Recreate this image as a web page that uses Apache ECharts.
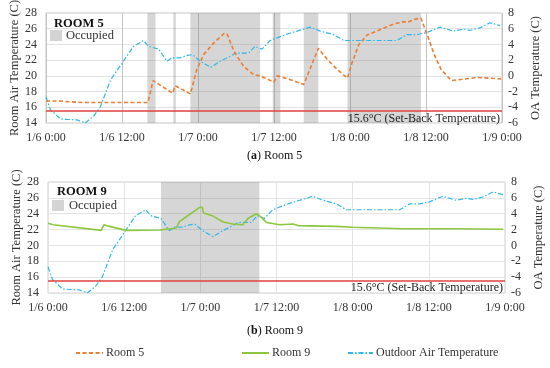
<!DOCTYPE html>
<html><head><meta charset="utf-8">
<script src="https://cdn.jsdelivr.net/npm/echarts@6/dist/echarts.min.js"></script>
<style>html,body{margin:0;padding:0;background:#fff}#c{width:550px;height:368px}</style>
</head><body><div id="c"></div>
<script>
// ---- data (hours since 1/6 0:00) ----
const xTickLabels = ["1/6 0:00","1/6 12:00","1/7 0:00","1/7 12:00","1/8 0:00","1/8 12:00","1/9 0:00"];
const room5Hours = [0,2,5.9,10,16.1,16.9,20.0,20.4,22.8,23.8,24.9,26.5,28.2,28.6,29.7,31.2,32.8,33.8,34.9,36.0,36.5,37.0,38.6,40.7,43.0,44.4,46.0,47.6,48.3,49.4,50.7,52.8,54.9,56.5,57.0,58.2,59.2,60.3,61.3,62.4,64.0,66.1,68.2,71.9];
const room5Temp  = [16.8,16.8,16.6,16.6,16.6,19.4,17.8,18.75,17.7,20.8,22.7,24.2,25.45,25.3,23.1,21.2,20.15,20.0,19.6,19.2,20.0,19.9,19.5,18.9,23.5,22.1,20.8,19.7,21.6,24.0,25.2,25.9,26.6,26.9,26.8,27.2,27.35,25.0,22.7,20.8,19.4,19.6,19.8,19.6];
const room9Hours = [0,0.8,8.4,8.8,9.7,12.3,17.6,20.2,20.7,22.3,23.9,24.3,24.5,26.0,27.6,29.1,30.7,31.5,32.8,33.4,34.4,36.5,38.6,39.4,45.4,48.0,55.9,63.8,71.7];
const room9Temp  = [22.8,22.6,21.9,22.6,22.4,21.9,21.95,22.2,23.0,23.9,24.8,24.8,24.1,23.7,22.95,22.7,22.6,23.4,24.0,23.7,22.9,22.6,22.7,22.5,22.4,22.3,22.1,22.1,22.05];
const oaHours = [0,0.7,2.3,4.9,6.2,7.5,8.6,10.2,12.0,13.8,15.4,16.2,17.8,19.1,19.9,21.2,22.3,23.1,24.4,26.0,27.5,29.1,29.9,32.0,33.0,34.1,35.4,37.0,38.6,40.7,41.7,43.3,45.4,47.0,49.1,52.8,55.4,57.0,58.5,60.1,62.2,64.3,65.9,67.0,68.5,70.1,71.7];
const oaTemp  = [-2.7,-4.3,-5.5,-5.6,-6.0,-5.15,-3.9,-0.5,1.6,3.75,4.5,3.75,3.4,1.85,2.3,2.3,2.6,2.7,1.85,1.1,1.85,2.5,2.9,2.9,3.75,3.4,4.5,5.0,5.45,5.95,6.2,5.7,5.25,4.5,4.5,4.5,4.5,5.25,5.25,5.5,6.2,5.7,5.95,5.8,6.1,6.75,6.4];
const room5OccStart = [16.0,20.1,22.8,35.8,40.7,47.6];
const room5OccEnd   = [17.3,20.5,33.8,37.0,43.0,59.2];
const room9OccStart = [17.8];
const room9OccEnd   = [33.3];
const setBack = 15.6;

const pair = (xs, ys) => xs.map((x, i) => [x, ys[i]]);
const bands = (s, e) => s.map((v, i) => [{xAxis: v}, {xAxis: e[i]}]);

const FONT = 'Liberation Serif';
const txt = {fontFamily: FONT, fontSize: 12, color: '#333'};
const C5 = '#ED7D31', C9 = '#8DC63F', COA = '#2DB7EC';

function xAxis(gi, vcol) {
  return {type: 'value', gridIndex: gi, min: 0, max: 72, interval: 12,
    axisLine: {show: false}, axisTick: {show: false},
    axisLabel: Object.assign({}, txt, {margin: 9, formatter: v => xTickLabels[Math.round(v / 12)]}),
    splitLine: {show: true, lineStyle: {color: vcol, width: 1}}};
}
function yLeft(gi) {
  return {type: 'value', gridIndex: gi, min: 14, max: 28, interval: 2,
    name: 'Room Air Temperature (C)', nameLocation: 'middle', nameGap: 25, nameRotate: 90, nameMoveOverlap: false,
    nameTextStyle: Object.assign({}, txt, {fontSize: 12.5}),
    axisLine: {show: false}, axisTick: {show: false},
    axisLabel: Object.assign({}, txt, {margin: 9}),
    splitLine: {show: true, lineStyle: {color: '#e3e3e3'}}};
}
function yRight(gi) {
  return {type: 'value', gridIndex: gi, min: -6, max: 8, interval: 2, position: 'right',
    name: 'OA Temperature (C)', nameLocation: 'middle', nameGap: 26, nameRotate: 90,
    nameTextStyle: Object.assign({}, txt, {fontSize: 12.5}),
    axisLine: {show: false}, axisTick: {show: false},
    axisLabel: Object.assign({}, txt, {margin: 6}),
    splitLine: {show: false}};
}
function setLine() {
  return {silent: true, symbol: 'none',
    lineStyle: {color: '#E0403C', width: 1.6, type: 'solid'},
    label: {show: true, position: 'insideEndBottom', formatter: '15.6°C (Set-Back Temperature)',
      fontFamily: FONT, fontSize: 12, color: '#222', distance: 2},
    data: [{yAxis: setBack}]};
}
const bandStyle = {color: 'rgba(120,120,120,0.30)'};
const legBase = {top: 342, itemWidth: 27, itemHeight: 10, itemStyle: {opacity: 0},
  textStyle: Object.assign({}, txt, {padding: [0, 0, 0, -2]})};

const option = {
  animation: false,
  backgroundColor: '#fff',
  grid: [
    {left: 46, top: 13, width: 456, height: 110, outerBoundsMode: 'none', containLabel: false, show: true, borderColor: '#c4c4c4', borderWidth: 1, backgroundColor: 'transparent'},
    {left: 48, top: 182, width: 457, height: 111, outerBoundsMode: 'none', containLabel: false, show: true, borderColor: '#d0d0d0', borderWidth: 1, backgroundColor: 'transparent'}
  ],
  xAxis: [xAxis(0, '#c4c4c4'), xAxis(1, '#e3e3e3')],
  yAxis: [yLeft(0), yRight(0), yLeft(1), yRight(1)],
  legend: [
    Object.assign({data: ['Room 5'], left: 70}, legBase),
    Object.assign({data: ['Room 9'], left: 236}, legBase),
    Object.assign({data: ['Outdoor Air Temperature'], left: 342}, legBase, {itemWidth: 25})
  ],
  series: [
    {name: 'Room 5', type: 'line', xAxisIndex: 0, yAxisIndex: 0, showSymbol: false, symbol: 'none',
      data: pair(room5Hours, room5Temp), lineStyle: {color: C5, width: 1.6, type: [4, 2.5]}, itemStyle: {color: C5},
      markArea: {silent: true, itemStyle: bandStyle, data: bands(room5OccStart, room5OccEnd)},
      markLine: setLine(), z: 3},
    {name: 'Outdoor Air Temperature', type: 'line', xAxisIndex: 0, yAxisIndex: 1, showSymbol: false, symbol: 'none',
      data: pair(oaHours, oaTemp), lineStyle: {color: COA, width: 1.2, type: [5, 2, 1.5, 2]}, itemStyle: {color: COA}, z: 2},
    {name: 'Room 9', type: 'line', xAxisIndex: 1, yAxisIndex: 2, showSymbol: false, symbol: 'none',
      data: pair(room9Hours, room9Temp), lineStyle: {color: C9, width: 1.6}, itemStyle: {color: C9},
      markArea: {silent: true, itemStyle: bandStyle, data: bands(room9OccStart, room9OccEnd)},
      markLine: setLine(), z: 3},
    {name: 'Outdoor Air Temperature', type: 'line', xAxisIndex: 1, yAxisIndex: 3, showSymbol: false, symbol: 'none',
      data: pair(oaHours, oaTemp), lineStyle: {color: COA, width: 1.2, type: [5, 2, 1.5, 2]}, itemStyle: {color: COA}, z: 2}
  ],
  graphic: [
    {type: 'text', left: 54, top: 17, style: {text: 'ROOM 5', font: 'bold 12.5px "Liberation Serif"', fill: '#111'}},
    {type: 'rect', left: 50, top: 30, shape: {width: 12, height: 11}, style: {fill: '#d4d4d4'}},
    {type: 'text', left: 66, top: 29, style: {text: 'Occupied', font: '12.5px "Liberation Serif"', fill: '#333'}},
    {type: 'text', left: 57, top: 185, style: {text: 'ROOM 9', font: 'bold 12.5px "Liberation Serif"', fill: '#111'}},
    {type: 'rect', left: 52, top: 200, shape: {width: 12, height: 11}, style: {fill: '#d4d4d4'}},
    {type: 'text', left: 69, top: 199, style: {text: 'Occupied', font: '12.5px "Liberation Serif"', fill: '#333'}},
    {type: 'text', left: 247, top: 150, style: {rich: {b: {fontFamily: FONT, fontSize: 12, fontWeight: 'bold', fill: '#111'}, n: {fontFamily: FONT, fontSize: 12, fill: '#111'}}, text: '{n|(}{b|a}{n|) Room 5}'}},
    {type: 'text', left: 247, top: 325, style: {rich: {b: {fontFamily: FONT, fontSize: 12, fontWeight: 'bold', fill: '#111'}, n: {fontFamily: FONT, fontSize: 12, fill: '#111'}}, text: '{n|(}{b|b}{n|) Room 9}'}}
  ]
};
const chart = echarts.init(document.getElementById('c'), null, {renderer: 'canvas'});
chart.setOption(option);
</script></body></html>
